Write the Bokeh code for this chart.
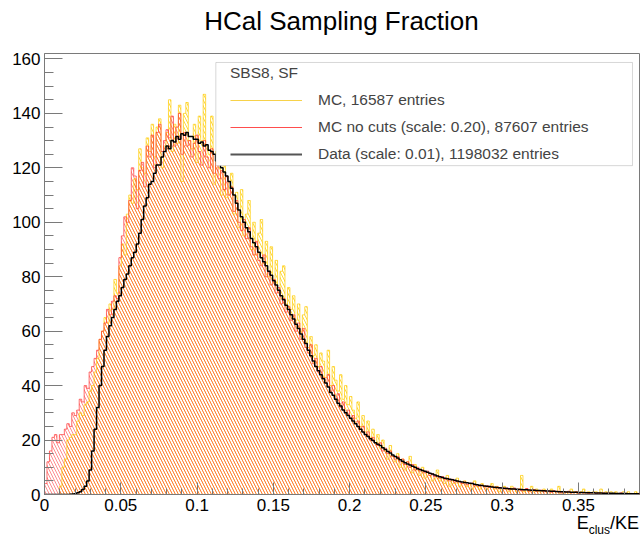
import numpy as np
from bokeh.plotting import figure
from bokeh.layouts import column
from bokeh.models import (Range1d, Legend, LegendItem, BoxAnnotation,
                          FixedTicker, Div)
from bokeh.embed import file_html
from bokeh.resources import INLINE

# Histogram range (E_clus/KE)
X_MIN, X_MAX = 0.0, 0.39
Y_MAX = 162

# MC with cuts (16587 entries), one value per bin, 10 bins per row
mc = [
    0, 0, 0, 0, 0, 0, 3, 10, 13, 20,
    21, 22, 22, 27, 30, 29, 33, 34, 38, 40,
    45, 50, 57, 60, 65, 63, 70, 68, 79, 74,
    84, 92, 88, 103, 110, 107, 116, 112, 127, 120,
    118, 131, 126, 136, 124, 135, 138, 120, 128, 133,
    145, 126, 136, 129, 143, 115, 140, 144, 130, 127,
    136, 122, 139, 130, 147, 128, 125, 139, 114, 126,
    120, 110, 124, 109, 115, 118, 103, 111, 98, 112,
    95, 103, 108, 90, 100, 88, 96, 101, 85, 93,
    80, 91, 78, 86, 75, 82, 84, 70, 76, 68,
    73, 64, 70, 60, 66, 69, 54, 58, 51, 55,
    47, 52, 49, 43, 53, 40, 47, 42, 38, 44,
    35, 40, 33, 36, 31, 28, 34, 25, 29, 23,
    27, 21, 24, 19, 22, 17, 20, 16, 13, 18,
    14, 12, 15, 10, 13, 9, 12, 14, 8, 11,
    9, 7, 10, 6, 8, 7, 5, 6, 9, 5,
    6, 4, 7, 3, 5, 4, 6, 3, 4, 5,
    3, 4, 2, 5, 3, 2, 4, 3, 2, 3,
    4, 2, 3, 1, 2, 3, 2, 1, 3, 2,
    1, 2, 7, 1, 2, 1, 3, 1, 2, 1,
    1, 2, 1, 0, 2, 1, 1, 3, 0, 1,
    1, 0, 2, 1, 1, 0, 1, 2, 0, 1,
    0, 1, 1, 0, 2, 0, 1, 0, 1, 0,
    1, 0, 0, 1, 0, 1, 0, 0, 1, 0,
]

# MC without cuts, scaled by 0.20 (87607 entries)
mc_nocuts = [
    4, 12, 16, 21, 22, 19, 22, 22, 24, 26,
    25, 30, 29, 31, 35, 34, 40, 39, 45, 47,
    50, 53, 57, 60, 63, 68, 66, 71, 73, 72,
    87, 95, 102, 100, 108, 120, 117, 105, 119, 122,
    113, 128, 124, 132, 120, 133, 136, 126, 130, 134,
    131, 139, 128, 135, 140, 125, 133, 128, 130, 124,
    129, 132, 126, 121, 130, 124, 120, 127, 118, 122,
    116, 119, 112, 117, 110, 113, 104, 108, 100, 97,
    101, 94, 98, 91, 88, 93, 86, 84, 88, 80,
    82, 77, 79, 74, 76, 70, 72, 67, 69, 64,
    66, 60, 63, 57, 61, 54, 52, 55, 48, 50,
    45, 47, 43, 41, 44, 38, 40, 35, 37, 32,
    34, 30, 31, 28, 29, 26, 27, 24, 25, 22,
    23, 20, 21, 19, 18, 19, 16, 17, 15, 16,
    14, 13, 14, 12, 13, 11, 12, 10, 11, 9,
    10, 8.6, 9, 8, 8.6, 7, 7.6, 6.6, 7, 6,
    6.6, 5.6, 6, 5, 5.6, 4.6, 5, 4.6, 4, 4.6,
    3.6, 4, 4.2, 3.2, 3.6, 3, 3.4, 2.8, 3.2, 2.6,
    3, 2.4, 2.8, 2.2, 2.6, 2, 2.4, 1.8, 2.2, 2.4,
    1.6, 2, 1.4, 1.8, 2.2, 1.2, 1.6, 1.8, 1.2, 1.4,
    1.6, 1, 1.4, 1.2, 0.8, 1.4, 1, 1.2, 0.6, 1,
    0.8, 1.2, 0.6, 0.8, 1, 0.4, 0.8, 0.6, 0.8, 0.4,
    0.6, 0.8, 0.4, 0.6, 0.2, 0.6, 0.4, 0.6, 0.2, 0.4,
    0.4, 0.2, 0.6, 0.2, 0.4, 0.2, 0.4, 0, 0.2, 0.4,
]

# Data, scaled by 0.01 (1198032 entries)
data = [
    0, 0, 0, 0, 0, 0, 0, 0, 0, 0,
    0.1, 0.2, 0.3, 0.6, 1.0, 1.8, 3.0, 5.0, 9.0, 16,
    24, 32, 40, 47, 53, 58, 62, 65, 68, 71,
    73, 76, 79, 81, 84, 87, 89, 92, 96, 101,
    106, 109, 114, 115, 118, 121, 121, 124, 126, 128,
    127, 130, 129.5, 131.5, 130.5, 132.5, 132, 133, 131.5, 131.5,
    130.5, 130.5, 129, 129.5, 128, 128.5, 126.5, 126, 125, 122.5,
    121.5, 120, 118.5, 117, 115, 112.5, 110, 107, 104.5, 102,
    100, 98, 96.5, 94, 92.5, 91, 89, 87, 85.5, 84,
    82, 80.5, 78.5, 77, 75, 73, 71.5, 69.5, 68, 66,
    64.5, 62.5, 61, 59, 57, 55.5, 53, 51, 49, 47,
    45.5, 44, 42.5, 41, 39.5, 37.5, 36.5, 35, 33.5, 32.5,
    31, 30, 29, 28, 27, 26, 25, 24, 23, 22,
    21.3, 20.5, 19.8, 19, 18.5, 18, 17.2, 16.5, 15.8, 15.2,
    14.5, 14, 13.4, 12.8, 12.2, 11.7, 11.2, 10.8, 10.4, 10,
    9.5, 9.2, 8.8, 8.5, 8.2, 7.8, 7.5, 7.2, 6.8, 6.5,
    6.2, 6.0, 5.8, 5.6, 5.4, 5.2, 5.0, 4.8, 4.6, 4.4,
    4.3, 4.1, 4.0, 3.8, 3.6, 3.4, 3.3, 3.1, 3.0, 2.9,
    2.8, 2.7, 2.6, 2.5, 2.4, 2.3, 2.2, 2.1, 2.0, 2.0,
    1.9, 1.85, 1.8, 1.75, 1.7, 1.65, 1.6, 1.55, 1.5, 1.45,
    1.4, 1.35, 1.3, 1.25, 1.2, 1.15, 1.1, 1.05, 1.0, 0.97,
    0.94, 0.9, 0.87, 0.84, 0.8, 0.77, 0.74, 0.7, 0.67, 0.64,
    0.62, 0.6, 0.57, 0.55, 0.52, 0.5, 0.48, 0.46, 0.44, 0.42,
    0.4, 0.38, 0.36, 0.34, 0.33, 0.32, 0.3, 0.28, 0.27, 0.25,
]

x_ticks = [0, 0.05, 0.1, 0.15, 0.2, 0.25, 0.3, 0.35]
x_tick_labels = ["0", "0.05", "0.1", "0.15", "0.2", "0.25", "0.3", "0.35"]
y_ticks = [0, 20, 40, 60, 80, 100, 120, 140, 160]

title_text = "HCal Sampling Fraction"
legend_header = "SBS8, SF"
legend_labels = [
    "MC, 16587 entries",
    "MC no cuts (scale: 0.20), 87607 entries",
    "Data (scale: 0.01), 1198032 entries",
]

FONT = "Liberation Sans"
YELLOW = "#ffcc00"
RED = "#ff3030"
GREY = "#7a7a7a"
W = 641
TITLE_H = 40
LABEL_H = 21
PLOT_H = 540 - TITLE_H - LABEL_H


def step_outline(vals):
    """Closed histogram outline (x, y) for equal-width bins."""
    v = np.asarray(vals, dtype=float)
    edges = np.linspace(X_MIN, X_MAX, len(v) + 1)
    xs = np.concatenate([[edges[0]], np.repeat(edges, 2)[1:-1], [edges[-1]]])
    ys = np.concatenate([[0.0], np.repeat(v, 2), [0.0]])
    return xs, ys


p = figure(width=W, height=PLOT_H, output_backend="svg", toolbar_location=None,
           x_range=Range1d(X_MIN, X_MAX), y_range=Range1d(0, Y_MAX),
           min_border_left=44, min_border_right=2, min_border_top=13,
           min_border_bottom=25)
p.grid.visible = False
p.outline_line_color = GREY
p.outline_line_width = 1
p.background_fill_color = "white"
p.border_fill_color = "white"

# hatched fills
mx, my = step_outline(mc)
rx, ry = step_outline(mc_nocuts)
dx, dy = step_outline(data)

p.varea(x=mx, y1=0, y2=my, fill_alpha=0, hatch_pattern="\\", hatch_color=YELLOW,
        hatch_alpha=0.75, hatch_scale=6, hatch_weight=1)
p.varea(x=rx, y1=0, y2=ry, fill_alpha=0, hatch_pattern="\\", hatch_color=RED,
        hatch_alpha=0.55, hatch_scale=6, hatch_weight=1)

# outlines
p.line(mx, my, line_color=YELLOW, line_alpha=0.7, line_width=1)
p.line(rx, ry, line_color=RED, line_alpha=0.7, line_width=1)
p.line(dx, dy, line_color="black", line_width=1.5)

# axes
for ax in (p.xaxis[0], p.yaxis[0]):
    ax.axis_line_color = GREY
    ax.major_tick_line_color = GREY
    ax.minor_tick_line_color = GREY
    ax.major_tick_out = 0
    ax.minor_tick_out = 0
    ax.major_label_text_font = FONT
    ax.major_label_text_font_size = "17px"
    ax.major_label_text_color = "black"

p.xaxis.ticker = FixedTicker(ticks=x_ticks,
                             minor_ticks=list(np.round(np.arange(0, X_MAX, 0.01), 3)))
p.xaxis.major_label_overrides = {t: s for t, s in zip(x_ticks, x_tick_labels)}
p.xaxis.major_tick_in = 12
p.xaxis.minor_tick_in = 6
p.xaxis.major_label_standoff = 4

p.yaxis.ticker = FixedTicker(ticks=y_ticks, minor_ticks=list(range(0, Y_MAX, 5)))
p.yaxis.major_tick_in = 18
p.yaxis.minor_tick_in = 9
p.yaxis.major_label_standoff = 4

# legend frame
p.add_layout(BoxAnnotation(left=0.1123, right=0.3854, bottom=120.8, top=158.7,
                           fill_color="white", fill_alpha=1,
                           line_color=GREY, line_width=1))

# legend samples (drawn below the visible range)
leg_mc = p.line([0, 0.01], [-10, -10], line_color="#f7d24a", line_width=1.2)
leg_rd = p.line([0, 0.01], [-10, -10], line_color="#ff4d4d", line_width=1.2)
leg_dt = p.line([0, 0.01], [-10, -10], line_color="#555555", line_width=2)

legend = Legend(items=[LegendItem(label=legend_labels[0], renderers=[leg_mc]),
                       LegendItem(label=legend_labels[1], renderers=[leg_rd]),
                       LegendItem(label=legend_labels[2], renderers=[leg_dt])],
                location=(178, 322), title=legend_header,
                title_text_font=FONT, title_text_font_size="15.5px",
                title_text_font_style="normal", title_standoff=8,
                label_text_font=FONT, label_text_font_size="15.5px",
                glyph_width=72, glyph_height=20, label_height=20,
                label_standoff=16, spacing=7, padding=8, margin=0,
                border_line_alpha=0, background_fill_alpha=0)
p.add_layout(legend, "center")

# title, centred over the frame
title = Div(text=title_text, width=W, height=TITLE_H, margin=0,
            styles={"font-family": FONT, "font-size": "26px", "color": "black",
                    "text-align": "center", "line-height": "26px",
                    "padding-top": "8px", "padding-left": "44px",
                    "padding-right": "2px", "box-sizing": "border-box"})

# x-axis title with subscript, right-aligned under the frame edge
xlabel = Div(text="E<sub style='font-size:12px'>clus</sub>/KE",
             width=W, height=LABEL_H, margin=0,
             styles={"font-family": FONT, "font-size": "18px", "color": "black",
                     "text-align": "right", "line-height": "8px",
                     "padding-right": "2px", "box-sizing": "border-box"})

layout = column(title, p, xlabel, spacing=0)
open("out.html", "w").write(file_html(layout, INLINE))
